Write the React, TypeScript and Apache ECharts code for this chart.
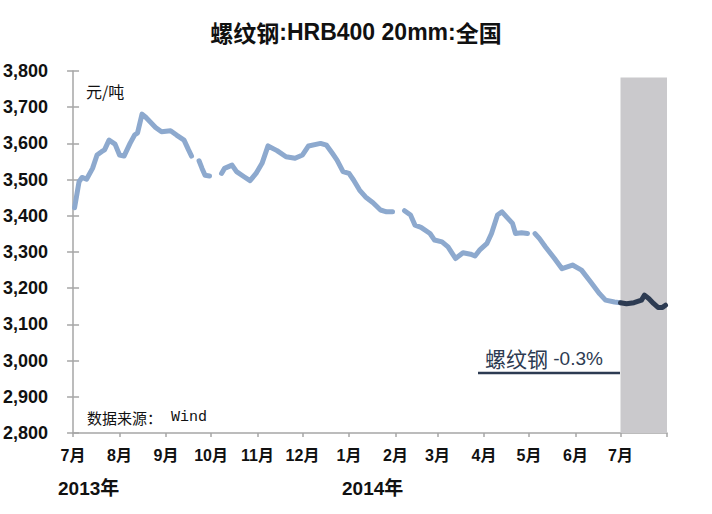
import React, { useEffect, useRef } from 'react';
import * as echarts from 'echarts';

const LIGHT_DATES = [
  '2013-07-02', '2013-07-05', '2013-07-07', '2013-07-10', '2013-07-14', '2013-07-17', '2013-07-20', '2013-07-22',
  '2013-07-25', '2013-07-29', '2013-08-01', '2013-08-04', '2013-08-08', '2013-08-11', '2013-08-13', '2013-08-16',
  '2013-08-18', '2013-08-22', '2013-08-25', '2013-08-29', '2013-09-04', '2013-09-08', '2013-09-13', '2013-09-16',
  '2013-09-18', '2013-09-20', '2013-09-23', '2013-09-25', '2013-09-27', '2013-09-30', '2013-10-04', '2013-10-08',
  '2013-10-10', '2013-10-15', '2013-10-18', '2013-10-23', '2013-10-27', '2013-10-31', '2013-11-04', '2013-11-08',
  '2013-11-14', '2013-11-20', '2013-11-26', '2013-12-01', '2013-12-05', '2013-12-13', '2013-12-17', '2013-12-21',
  '2013-12-24', '2013-12-28', '2014-01-01', '2014-01-04', '2014-01-08', '2014-01-12', '2014-01-17', '2014-01-22',
  '2014-01-26', '2014-01-30', '2014-02-03', '2014-02-07', '2014-02-11', '2014-02-14', '2014-02-18', '2014-02-24',
  '2014-02-27', '2014-03-04', '2014-03-08', '2014-03-13', '2014-03-18', '2014-03-23', '2014-03-26', '2014-03-29',
  '2014-04-03', '2014-04-06', '2014-04-10', '2014-04-13', '2014-04-16', '2014-04-20', '2014-04-22', '2014-04-26',
  '2014-04-30', '2014-05-02', '2014-05-05', '2014-05-08', '2014-05-12', '2014-05-18', '2014-05-23', '2014-05-30',
  '2014-06-05', '2014-06-11', '2014-06-17', '2014-06-21', '2014-06-27', '2014-07-01',
];
const LIGHT_VALUES: (number | null)[] = [
  3422, 3494, 3506, 3501, 3531, 3568, 3577, 3582,
  3609, 3598, 3568, 3565, 3600, 3623, 3629, 3681,
  3674, 3657, 3644, 3632, 3635, 3623, 3609, 3582,
  3565, null, 3552, 3531, 3512, 3510, null, 3517,
  3531, 3540, 3522, 3508, 3497, 3517, 3545, 3593,
  3580, 3563, 3559, 3568, 3593, 3600, 3595, 3572,
  3554, 3522, 3517, 3499, 3471, 3452, 3436, 3416,
  3411, 3411, null, 3414, 3402, 3374, 3368, 3351,
  3333, 3328, 3314, 3282, 3298, 3294, 3289, 3305,
  3324, 3351, 3402, 3411, 3397, 3379, 3351, 3353,
  3351, null, 3351, 3337, 3314, 3282, 3254, 3264,
  3250, 3218, 3185, 3167, 3162, 3160,
];

const DARK_DATES = [
  '2014-07-01', '2014-07-05', '2014-07-10', '2014-07-15', '2014-07-17',
  '2014-07-20', '2014-07-23', '2014-07-26', '2014-07-29', '2014-07-31',
];
const DARK_VALUES = [3160, 3157, 3160, 3167, 3181, 3171, 3158, 3147, 3147, 3153];

const MONTH_STARTS = [
  '2013-07-01', '2013-08-01', '2013-09-01', '2013-10-01', '2013-11-01', '2013-12-01', '2014-01-01',
  '2014-02-01', '2014-03-01', '2014-04-01', '2014-05-01', '2014-06-01', '2014-07-01', '2014-08-01',
];
const MONTH_LABELS = ['7月', '8月', '9月', '10月', '11月', '12月', '1月', '2月', '3月', '4月', '5月', '6月', '7月'];
const YEAR_LABELS = ['2013年', '2014年'];
const HIGHLIGHT_START = '2014-07-01';
const Y_MIN = 2800;
const Y_MAX = 3800;
const Y_STEP = 100;
const BAND_TOP = 3782;

const TITLE_CN1 = '螺纹钢';
const TITLE_EN = ':HRB400 20mm:';
const TITLE_CN2 = '全国';
const UNIT = '元/吨';
const SOURCE_CN = '数据来源：';
const SOURCE_EN = ' Wind';
const NOTE_CN = '螺纹钢';
const NOTE_EN = ' -0.3%';

const BASE = Date.parse('2013-07-01T00:00:00Z');
const toDay = (s: string) => Math.round((Date.parse(s + 'T00:00:00Z') - BASE) / 86400000);

const NARROW = "'Liberation Sans Narrow', 'Arial Narrow', 'Liberation Sans', Arial, 'Noto Sans CJK SC', sans-serif";
const CJK = "'Noto Sans CJK SC', sans-serif";
const LIGHT = '#8DA9CE';
const DARK = '#2D3B52';

export default function App() {
  const ref = useRef<HTMLDivElement>(null);

  useEffect(() => {
    if (!ref.current) return;
    const chart = echarts.init(ref.current, null, { renderer: 'svg' });

    const tickDays = MONTH_STARTS.map(toDay);
    const labelDays = tickDays.slice(0, MONTH_LABELS.length);
    const labelMap: Record<number, string> = {};
    labelDays.forEach((d, i) => (labelMap[d] = MONTH_LABELS[i]));
    const xMax = tickDays[tickDays.length - 1];

    const lightData = LIGHT_DATES.map((d, i) => [toDay(d), LIGHT_VALUES[i] == null ? '-' : LIGHT_VALUES[i]]);
    const darkData = DARK_DATES.map((d, i) => [toDay(d), DARK_VALUES[i]]);

    const fmtY = (v: number) => `${Math.floor(v / 1000)},${String(v % 1000).padStart(3, '0')}`;

    const option: any = {
      animation: false,
      backgroundColor: '#ffffff',
      title: {
        text: `{c|${TITLE_CN1}}{b|${TITLE_EN}}{c|${TITLE_CN2}}`,
        left: 'center',
        top: 15,
        textStyle: {
          rich: {
            c: { fontFamily: CJK, fontSize: 23, color: '#111111' },
            b: { fontFamily: NARROW, fontWeight: 'bold', fontSize: 23, color: '#111111' },
          },
        },
      },
      grid: { left: 72, right: 45, top: 71, bottom: 81 },
      xAxis: {
        type: 'value',
        min: 0,
        max: xMax,
        axisLine: { show: true, lineStyle: { color: '#A6A6A6', width: 1.5 } },
        axisTick: { show: true, customValues: tickDays, length: 4, lineStyle: { color: '#A6A6A6', width: 1.5 } },
        axisLabel: {
          customValues: labelDays,
          formatter: (v: number) => labelMap[Math.round(v)] ?? '',
          margin: 14,
          fontFamily: NARROW,
          fontWeight: 'bold',
          fontSize: 16,
          color: '#111111',
        },
        splitLine: { show: false },
      },
      yAxis: [
        {
          type: 'value',
          min: Y_MIN,
          max: Y_MAX,
          interval: Y_STEP,
          axisLine: { show: true, lineStyle: { color: '#A6A6A6', width: 1.5 } },
          axisTick: { show: true, length: 6, lineStyle: { color: '#A6A6A6', width: 1.5 } },
          axisLabel: {
            formatter: fmtY,
            margin: 25,
            fontFamily: NARROW,
            fontWeight: 'bold',
            fontSize: 18,
            color: '#111111',
          },
          splitLine: { show: false },
        },
        {
          type: 'value',
          min: Y_MIN,
          max: Y_MAX,
          interval: Y_STEP,
          position: 'left',
          axisLine: { show: false },
          axisTick: { show: true, inside: true, length: 6, lineStyle: { color: '#A6A6A6', width: 1.5 } },
          axisLabel: { show: false },
          splitLine: { show: false },
        },
      ],
      series: [
        {
          type: 'line',
          data: lightData,
          showSymbol: false,
          symbol: 'none',
          connectNulls: false,
          lineStyle: { color: LIGHT, width: 5, cap: 'round', join: 'round' },
          z: 3,
          markArea: {
            silent: true,
            itemStyle: { color: '#CAC9CC' },
            data: [[{ xAxis: toDay(HIGHLIGHT_START), yAxis: Y_MIN }, { xAxis: xMax, yAxis: BAND_TOP }]],
          },
        },
        {
          type: 'line',
          data: darkData,
          showSymbol: false,
          symbol: 'none',
          lineStyle: { color: DARK, width: 5, cap: 'round', join: 'round' },
          z: 4,
        },
      ],
      graphic: [
        {
          type: 'text',
          x: 86,
          y: 91,
          style: { text: UNIT, font: `16px ${CJK}`, fill: '#111111', textVerticalAlign: 'middle', verticalAlign: 'middle' },
        },
        {
          type: 'text',
          x: 87,
          y: 417,
          style: {
            text: `{a|${SOURCE_CN}}{b|${SOURCE_EN}}`,
            rich: {
              a: { fontFamily: CJK, fontSize: 15, fill: '#111111', color: '#111111' },
              b: { fontFamily: "'Liberation Mono', 'DejaVu Sans Mono', monospace", fontSize: 15, fill: '#111111', color: '#111111' },
            },
            textVerticalAlign: 'middle',
            verticalAlign: 'middle',
          },
        },
        {
          type: 'text',
          x: 58,
          y: 488,
          style: { text: YEAR_LABELS[0], font: `bold 19px ${NARROW}`, fill: '#111111', textVerticalAlign: 'middle', verticalAlign: 'middle' },
        },
        {
          type: 'text',
          x: 342,
          y: 488,
          style: { text: YEAR_LABELS[1], font: `bold 19px ${NARROW}`, fill: '#111111', textVerticalAlign: 'middle', verticalAlign: 'middle' },
        },
        {
          type: 'text',
          x: 485,
          y: 358,
          z: 10,
          style: {
            text: `{a|${NOTE_CN}}{b|${NOTE_EN}}`,
            rich: {
              a: { fontFamily: CJK, fontSize: 21, fill: DARK, color: DARK },
              b: { fontFamily: NARROW, fontSize: 19, fill: DARK, color: DARK },
            },
            textVerticalAlign: 'middle',
            verticalAlign: 'middle',
          },
        },
        {
          type: 'line',
          z: 10,
          shape: { x1: 478, y1: 373, x2: 620, y2: 373 },
          style: { stroke: DARK, lineWidth: 2.5 },
        },
      ],
    };

    chart.setOption(option);
    return () => chart.dispose();
  }, []);

  return (
    <div
      ref={ref}
      style={{ position: 'fixed', left: 0, top: 0, width: 712, height: 514, background: '#fff' }}
    />
  );
}
